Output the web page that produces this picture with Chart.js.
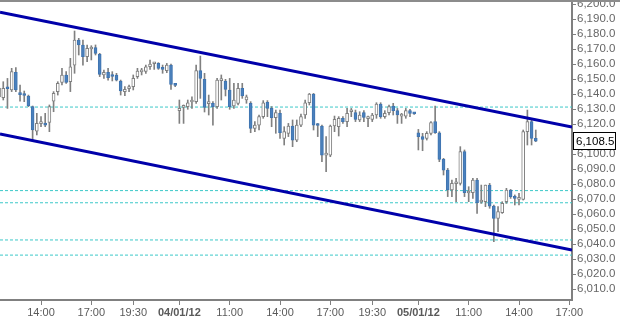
<!DOCTYPE html>
<html>
<head>
<meta charset="utf-8">
<script src="https://cdn.jsdelivr.net/npm/chart.js@4.4.1/dist/chart.umd.min.js"></script>
<style>
  html, body { margin: 0; padding: 0; background: #fff; }
  canvas { display: block; }
</style>
</head>
<body>
<canvas id="myChart" width="620" height="321"></canvas>
<script>
// 15 min candles, x = candle number (session 08:00 - 22:00)
const opens = [
  6138, 6137.6, 6144.3, 6142.7, 6154.4, 6140.4, 6139.5, 6138.7, 6131.6, 6115.3,
  6120.3, 6120.2, 6121.1, 6135.3, 6141.6, 6147.8, 6152.7, 6148.2, 6159.3, 6176,
  6172.7, 6164.9, 6170, 6170.9, 6166.4, 6152.7, 6154.4, 6152.3, 6152.7, 6148.7,
  6141.6, 6143.6, 6144.9, 6151.6, 6154.8, 6155.1, 6158.2, 6160.2, 6160.4, 6157,
  6155.6, 6159.3, 6146.2, 6128.9, 6131.1, 6131.6, 6134.7, 6134.9, 6155.6, 6149.8,
  6133.6, 6133.8, 6131.6, 6148.9, 6148.7, 6142.7, 6132, 6133.8, 6143.8, 6136,
  6133.8, 6117.1, 6119.3, 6124.9, 6134.4, 6130.4, 6124.2, 6127.1, 6110.4, 6113.8,
  6118.7, 6109.3, 6119.3, 6126, 6134.2, 6140, 6119.3, 6118.7, 6099.3, 6099.3,
  6118.7, 6118.2, 6123.8, 6121.6, 6128.2, 6127.6, 6122.7, 6127.6, 6123.6, 6123.1,
  6126, 6133.3, 6124.9, 6127.6, 6132, 6128.9, 6125.3, 6125.3, 6128.9, 6127.3,
  6114.2, 6111.6, 6110.4, 6113.8, 6121.6, 6114.2, 6096.4, 6089.3, 6076, 6080.2,
  6080.4, 6101.6, 6074, 6074.2, 6082.7, 6068, 6068.2, 6079.3, 6065.3, 6057.1,
  6060.9, 6068.2, 6076, 6070.9, 6069.8, 6069.8, 6114.9, 6121.6, 6110.4
]
const highs = [
  6147, 6148.2, 6150.4, 6157.1, 6157.6, 6146, 6142, 6139.3, 6132, 6127.1,
  6125, 6127.1, 6132.7, 6141.6, 6148.2, 6157.1, 6154.9, 6163.8, 6182, 6177.1,
  6176, 6172.7, 6172.2, 6172.7, 6167.1, 6156, 6157.1, 6154.9, 6153.8, 6149.3,
  6144.9, 6146, 6152.7, 6157.1, 6157.1, 6159.3, 6162.7, 6160.9, 6160.9, 6159.3,
  6160.4, 6160, 6146.4, 6136, 6132.7, 6136, 6138.2, 6159.3, 6165.3, 6153.8,
  6139.3, 6134.9, 6150.4, 6152.7, 6149.8, 6150.4, 6147.1, 6147.1, 6147.1, 6139.3,
  6134.9, 6121.6, 6126, 6135.6, 6135.6, 6131.6, 6129.3, 6129.3, 6118.2, 6120.4,
  6122.7, 6122.7, 6126.7, 6136, 6140.4, 6140.4, 6120.4, 6119.3, 6111.6, 6119.3,
  6125.3, 6124.9, 6124.9, 6130.4, 6130.4, 6129.3, 6128.2, 6128.9, 6125.3, 6127.1,
  6134.2, 6134.2, 6128.9, 6132.7, 6133.8, 6130.4, 6127.1, 6130.4, 6129.8, 6127.6,
  6116.4, 6113.8, 6114.9, 6121.6, 6132, 6114.9, 6097.1, 6090.4, 6082.7, 6083.8,
  6104.9, 6102.7, 6078.2, 6083.8, 6083.8, 6079.3, 6079.3, 6080.4, 6066, 6064.9,
  6068.2, 6077.1, 6076.4, 6072.7, 6073.8, 6116, 6129.3, 6123.8, 6116
]
const lows = [
  6134, 6136, 6130.4, 6141.6, 6141.6, 6135.3, 6134.9, 6131.6, 6109.3, 6112.7,
  6118.2, 6118.2, 6114.9, 6128.2, 6139.3, 6146, 6147.1, 6141.6, 6153.8, 6166,
  6159.3, 6161.6, 6162.7, 6166, 6151.6, 6150.4, 6149.3, 6148.7, 6148.7, 6139.3,
  6138.9, 6141.6, 6142.7, 6150.4, 6152.7, 6153.8, 6156.4, 6156.4, 6156.4, 6153.8,
  6154.2, 6143.1, 6144.9, 6120.4, 6120.4, 6129.8, 6130.4, 6133.8, 6137.1, 6128,
  6126, 6119.3, 6130.4, 6136, 6138.7, 6129.8, 6130.4, 6132.7, 6137.1, 6133.8,
  6114.2, 6114.9, 6116, 6123.8, 6124.9, 6118.2, 6113.8, 6110.4, 6106, 6111.6,
  6104.9, 6108.2, 6118.2, 6123.8, 6132.7, 6116, 6111.6, 6094.9, 6088.2, 6098.2,
  6114.9, 6112, 6120.4, 6118.2, 6124.9, 6121.6, 6121.6, 6121.6, 6118.2, 6121.6,
  6123.8, 6123.8, 6123.8, 6126, 6126, 6120.4, 6120.4, 6123.8, 6124.9, 6126.4,
  6102.7, 6102.2, 6109.3, 6112.7, 6113.8, 6094.9, 6086, 6071.6, 6071.6, 6068.2,
  6079.3, 6071.6, 6068.2, 6070.4, 6060.4, 6067.1, 6064.9, 6063.8, 6041.6, 6048.2,
  6060.4, 6067.1, 6070.4, 6066, 6066, 6069.3, 6106, 6106, 6108.2
]
const closes = [
  6144, 6143.8, 6143.5, 6154.9, 6142.7, 6139.6, 6139, 6132.2, 6116, 6120.4,
  6120.8, 6119.3, 6131.6, 6140.4, 6147.1, 6152.7, 6147.8, 6158.2, 6176, 6172.7,
  6164.9, 6170.4, 6170.9, 6167.1, 6153.1, 6154.4, 6150.9, 6151.7, 6149.3, 6142,
  6143.1, 6144.2, 6150.4, 6155.3, 6155.4, 6158.2, 6160, 6160.6, 6157.1, 6156.4,
  6159.3, 6146.4, 6145.8, 6130.4, 6132, 6134.2, 6135.1, 6155.6, 6150.4, 6131,
  6134, 6131.6, 6149.3, 6149.8, 6143.1, 6131.6, 6136, 6143.8, 6138.7, 6138.2,
  6117.1, 6119.3, 6124.9, 6134.2, 6130.4, 6124.2, 6127.6, 6114.2, 6114.9, 6118.7,
  6109.3, 6119.3, 6124.9, 6134.2, 6140, 6119.3, 6119, 6099.3, 6100, 6118.7,
  6123.1, 6123.8, 6121.6, 6127.1, 6128.6, 6123.1, 6126, 6124.4, 6124, 6126,
  6133.3, 6124.9, 6127.1, 6131.6, 6128.9, 6126, 6125.8, 6128.9, 6127.1, 6126.8,
  6111.6, 6109.8, 6113.8, 6120.9, 6114.2, 6096.4, 6089.3, 6076, 6080.4, 6080.6,
  6101.6, 6074.2, 6074.4, 6082.7, 6067.6, 6068.4, 6079.3, 6065.3, 6057.1, 6061.6,
  6067.1, 6076, 6071.6, 6070.4, 6070.2, 6114.9, 6121.6, 6110.4, 6108.5
]

const xTicks = [10, 22, 32, 43, 55, 67, 79, 89, 100, 112, 124, 136]
const xTickLabels = ['14:00', '17:00', '19:30', '04/01/12', '11:00', '14:00', '17:00', '19:30', '05/01/12', '11:00', '14:00', '17:00']
const yTicks = [6010, 6020, 6030, 6040, 6050, 6060, 6070, 6080, 6090, 6100,
  6110, 6120, 6130, 6140, 6150, 6160, 6170, 6180, 6190, 6200]

// channel lines: value at left edge, value at right edge
const channelTop = [6194.5, 6118]
const channelBottom = [6113.3, 6036]
const levels = [6131.3, 6075.6, 6067.5, 6042.7, 6032.6]
const lastPrice = 6108.5

const xMin = 0.22, xMax = 136.64
const yMin = 6002.67, yMax = 6202.67

const grey = '#808080'
const candleBlue = '#4a80bd'
const fontFamily = '"Liberation Sans", Arial, sans-serif'

const fmt = v => v.toFixed(1).replace(/\B(?=(\d{3})+(?!\d))/g, ',')
const isUp = i => closes[i] >= opens[i]

const lineSet = (a, b, color, width, dash, order) => ({
    type: 'line',
    data: [{x: xMin, y: a}, {x: xMax, y: b}],
    borderColor: color,
    borderWidth: width,
    borderDash: dash,
    pointRadius: 0,
    order: order
})

const pricePlugin = {
    id: 'price',
    afterDraw(chart) {
        const {ctx, chartArea} = chart
        const y = Math.round(chart.scales.y.getPixelForValue(lastPrice))
        ctx.save()
        ctx.fillStyle = '#8c8c8c'
        ctx.fillRect(0, 0, chart.width, 2)
        ctx.fillStyle = '#fff'
        ctx.fillRect(chartArea.right + 1.5, y - 8.5, 42, 17)
        ctx.strokeStyle = '#000'
        ctx.lineWidth = 1
        ctx.strokeRect(chartArea.right + 1.5, y - 8.5, 42, 17)
        ctx.fillStyle = '#000'
        ctx.font = '11.5px ' + fontFamily
        ctx.textBaseline = 'middle'
        ctx.fillText(fmt(lastPrice), chartArea.right + 4, y + 1)
        ctx.restore()
    }
}

const datasets = [
    lineSet(channelTop[0], channelTop[1], '#0000aa', 3, [], 0),
    lineSet(channelBottom[0], channelBottom[1], '#0000aa', 3, [], 0),
    {
        label: 'body',
        data: opens.map((o, i) => ({x: i, y: [o, closes[i]]})),
        backgroundColor: c => isUp(c.dataIndex) ? '#ffffff' : candleBlue,
        borderColor: c => isUp(c.dataIndex) ? grey : '#3f74b0',
        borderWidth: 1,
        borderSkipped: false,
        barThickness: 3,
        minBarLength: 2,
        grouped: false,
        order: 1
    },
    {
        label: 'wick',
        data: lows.map((l, i) => ({x: i, y: [l, highs[i]]})),
        backgroundColor: grey,
        borderWidth: 0,
        barThickness: 1,
        grouped: false,
        order: 2
    },
    ...levels.map(v => lineSet(v, v, '#3cc8c8', 1, [3, 2], 3))
]

const config = {
    type: 'bar',
    data: {datasets: datasets},
    options: {
        responsive: false,
        animation: false,
        devicePixelRatio: 1,
        layout: {padding: 0},
        plugins: {
            legend: {display: false},
            tooltip: {enabled: false}
        },
        scales: {
            x: {
                type: 'linear',
                min: xMin,
                max: xMax,
                offset: false,
                grid: {drawOnChartArea: false, tickLength: 5, color: grey, offset: false},
                border: {display: true, color: grey, width: 2},
                ticks: {
                    autoSkip: false,
                    maxRotation: 0,
                    padding: 1,
                    color: '#5a5a5a',
                    font: c => ({family: fontFamily, size: 11,
                        weight: (xTickLabels[c.index] || '').includes('/') ? 'bold' : 'normal'}),
                    callback: (v, i) => xTickLabels[i]
                },
                afterBuildTicks: s => { s.ticks = xTicks.map(v => ({value: v})) },
                afterFit: s => { s.height = 21; s.paddingLeft = 0; s.paddingRight = 0 }
            },
            y: {
                type: 'linear',
                position: 'right',
                min: yMin,
                max: yMax,
                grid: {drawOnChartArea: false, tickLength: 4, color: grey},
                border: {display: true, color: grey, width: 2},
                ticks: {
                    autoSkip: false,
                    padding: 1,
                    color: '#666666',
                    font: {family: fontFamily, size: 11.5},
                    callback: v => fmt(v)
                },
                afterBuildTicks: s => { s.ticks = yTicks.map(v => ({value: v})) },
                afterFit: s => { s.width = 48; s.paddingTop = 0; s.paddingBottom = 0 }
            }
        }
    },
    plugins: [pricePlugin]
}

const ctx = document.getElementById('myChart').getContext('2d')
const chart = new Chart(ctx, config)
</script>
</body>
</html>
